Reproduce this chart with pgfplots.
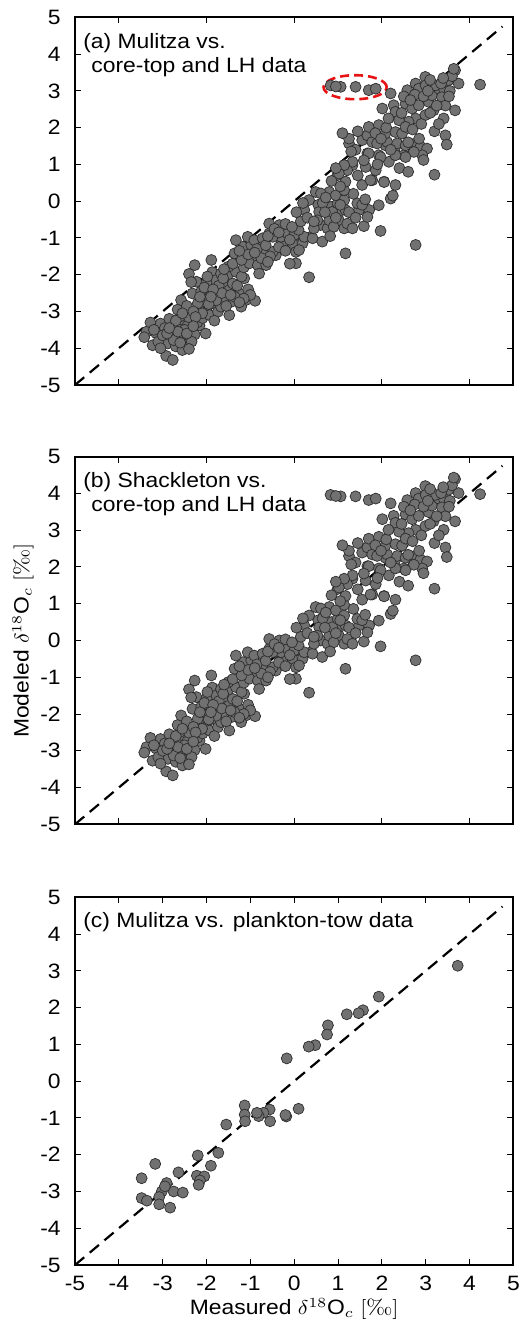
\documentclass[border=0pt]{standalone}
\usepackage{fontspec}
\setsansfont{Liberation Sans}
\usepackage{pgfplots}
\usepackage{pgfplotstable}
\pgfplotsset{compat=1.18}
\definecolor{mk}{RGB}{113,113,113}
\definecolor{mkedge}{RGB}{45,45,45}
\definecolor{ring}{RGB}{230,20,20}

\pgfplotstableread{
x a b
-3.37 -3.55 -2.90
-3.23 -3.92 -3.27
-3.15 -3.59 -2.94
-3.05 -3.33 -2.68
-2.92 -4.21 -3.56
-2.77 -4.32 -3.67
-2.88 -3.87 -3.22
-2.80 -3.64 -2.99
-2.70 -3.95 -3.30
-2.59 -3.60 -2.95
-2.55 -4.05 -3.40
-2.46 -3.78 -3.13
-2.38 -3.68 -3.03
-2.27 -3.63 -2.98
-2.16 -3.38 -2.73
-2.02 -3.60 -2.95
-2.65 -3.38 -2.73
-2.85 -3.20 -2.55
-2.95 -3.45 -2.80
-3.10 -3.82 -3.17
-2.52 -3.24 -2.59
-2.44 -3.40 -2.75
-2.61 -3.14 -2.49
-2.66 -2.95 -2.30
-2.58 -2.69 -2.04
-2.40 -3.16 -2.51
-2.50 -3.50 -2.85
-2.34 -3.82 -3.17
-2.21 -3.30 -2.65
-2.09 -3.18 -2.53
-2.00 -2.98 -2.33
-1.93 -3.10 -2.45
-2.27 -1.74 -1.09
-2.40 -1.98 -1.33
-2.23 -2.19 -1.54
-2.32 -2.51 -1.86
-2.17 -2.96 -2.31
-2.06 -2.60 -1.95
-1.89 -1.60 -0.95
-1.87 -1.93 -1.28
-1.94 -2.33 -1.68
-1.79 -2.15 -1.50
-1.70 -2.46 -1.81
-1.86 -2.78 -2.13
-1.74 -3.01 -2.36
-1.67 -1.97 -1.32
-1.52 -2.02 -1.37
-1.59 -2.28 -1.63
-1.48 -2.42 -1.77
-1.40 -2.24 -1.59
-1.33 -1.92 -1.27
-1.25 -2.51 -1.86
-1.14 -2.10 -1.45
-1.10 -2.69 -2.04
-1.21 -2.87 -2.22
-1.48 -3.10 -2.45
-1.67 -2.87 -2.22
-1.44 -2.74 -2.09
-0.89 -2.71 -2.06
-2.12 -2.45 -1.80
-2.00 -2.22 -1.57
-1.83 -2.55 -1.90
-1.60 -2.62 -1.97
-1.36 -2.60 -1.95
-1.55 -2.85 -2.20
-1.78 -2.70 -2.05
-2.20 -2.78 -2.13
-2.45 -2.85 -2.20
-1.98 -2.05 -1.40
-1.72 -2.30 -1.65
-1.50 -1.78 -1.13
-1.62 -2.10 -1.45
-1.30 -2.30 -1.65
-1.20 -2.05 -1.40
-1.05 -2.40 -1.75
-1.00 -2.55 -1.90
-1.15 -2.65 -2.00
-2.10 -3.05 -2.40
-1.82 -3.25 -2.60
-2.30 -3.00 -2.35
-2.70 -3.25 -2.60
-3.00 -3.65 -3.00
-2.75 -3.78 -3.13
-2.60 -3.85 -3.20
-2.40 -4.02 -3.37
-3.28 -3.30 -2.65
-3.42 -3.70 -3.05
-2.35 -2.20 -1.55
-2.15 -2.60 -1.95
-1.95 -2.80 -2.15
-1.65 -2.50 -1.85
-1.45 -2.55 -1.90
-1.25 -2.75 -2.10
-2.05 -2.35 -1.70
-1.85 -2.40 -1.75
-2.55 -3.05 -2.40
-2.25 -3.15 -2.50
-2.90 -3.60 -2.95
-3.20 -3.50 -2.85
-2.65 -3.55 -2.90
-2.45 -3.60 -2.95
-2.85 -3.45 -2.80
-3.05 -4.00 -3.35
-2.30 -3.40 -2.75
-1.90 -2.60 -1.95
-1.60 -1.85 -1.20
-1.40 -1.70 -1.05
-1.15 -1.80 -1.15
-0.95 -1.60 -0.95
-0.70 -1.35 -0.70
-0.30 -1.05 -0.40
-0.80 -1.15 -0.50
0.15 -0.95 -0.30
0.60 -0.65 0.00
0.85 -0.15 0.50
1.00 -0.35 0.30
0.55 -0.10 0.55
0.80 0.25 0.91
-1.36 -1.42 -0.77
-1.17 -1.24 -0.59
-0.98 -1.19 -0.54
-1.02 -1.69 -1.04
-0.83 -1.74 -1.09
-0.80 -1.97 -1.32
-0.64 -1.74 -1.09
-1.06 -0.97 -0.32
-0.91 -1.06 -0.41
-0.72 -1.01 -0.36
-0.42 -1.47 -0.82
-0.49 -1.38 -0.73
-0.27 -1.20 -0.55
-0.04 -1.15 -0.50
0.04 -1.69 -1.04
0.34 -2.07 -1.42
0.04 -1.38 -0.73
0.19 -1.15 -0.50
0.38 -0.97 -0.32
-0.30 -0.97 -0.32
-0.57 -0.88 -0.23
-1.33 -1.06 -0.41
-0.57 -0.61 0.04
-0.34 -0.65 0.00
-0.49 -0.97 -0.32
-0.15 -0.88 -0.23
0.00 -0.92 -0.27
0.11 -1.33 -0.68
0.23 -0.97 -0.32
0.42 -1.01 -0.36
0.64 -1.10 -0.45
0.23 -0.24 0.41
0.34 0.03 0.68
0.57 -0.29 0.36
0.53 -0.52 0.13
0.76 -0.74 -0.09
0.45 -0.74 -0.09
0.80 -0.52 0.13
0.87 -0.29 0.36
0.99 -0.06 0.59
0.49 0.25 0.91
0.61 0.21 0.87
0.95 0.16 0.82
1.14 0.03 0.68
1.17 -0.24 0.41
1.02 -0.52 0.13
1.14 -0.74 -0.09
1.21 -0.61 0.04
1.33 -0.74 -0.09
1.48 -0.24 0.41
1.44 -0.06 0.59
1.71 -0.24 0.41
1.59 -0.68 -0.03
1.67 -0.43 0.22
1.93 -0.11 0.54
2.20 0.07 0.72
1.17 -1.42 -0.77
1.97 -0.81 -0.16
2.77 -1.19 -0.54
-0.85 -1.30 -0.65
-0.65 -1.20 -0.55
-0.60 -0.95 -0.30
-0.45 -0.75 -0.10
-0.20 -0.62 0.03
-0.10 -1.05 -0.40
-0.35 -1.25 -0.60
-0.55 -1.50 -0.85
-0.75 -1.55 -0.90
-0.20 -1.35 -0.70
0.10 -0.78 -0.13
0.15 -0.55 0.10
0.30 -0.45 0.20
-0.05 -0.70 -0.05
-1.20 -1.60 -0.95
-1.05 -1.45 -0.80
-0.90 -1.40 -0.75
-1.25 -1.35 -0.70
-0.35 -0.85 -0.20
0.05 -0.30 0.35
0.20 -0.05 0.60
0.45 -0.55 0.10
0.65 -0.05 0.60
0.72 0.10 0.76
0.90 -0.70 -0.05
0.95 -0.45 0.20
0.82 -0.95 -0.30
0.70 -0.30 0.35
1.05 -0.10 0.55
1.25 -0.30 0.35
1.40 -0.45 0.20
1.55 -0.10 0.55
1.62 0.05 0.70
1.35 0.20 0.86
-0.60 -1.65 -1.00
-0.10 -1.70 -1.05
1.55 0.44 1.11
0.99 0.71 1.40
1.14 0.30 0.97
1.17 0.53 1.21
1.33 0.98 1.68
1.21 0.84 1.53
1.63 0.93 1.63
1.78 0.57 1.25
2.05 0.53 1.21
2.31 0.44 1.11
1.86 0.84 1.53
2.16 1.07 1.77
1.25 1.57 2.30
1.67 1.30 2.02
1.93 1.25 1.96
2.08 1.52 2.25
2.31 1.48 2.20
2.50 1.25 1.96
2.69 1.48 2.20
1.25 1.70 2.44
1.55 1.66 2.39
1.67 1.79 2.53
1.78 1.61 2.34
1.89 1.57 2.30
2.12 1.61 2.34
2.35 1.57 2.30
2.54 1.52 2.25
2.77 1.57 2.30
2.88 1.48 2.20
3.03 1.43 2.15
2.92 1.25 1.96
2.95 1.12 1.83
2.73 1.34 2.06
2.54 1.20 1.91
2.31 1.25 1.96
1.97 1.20 1.91
1.70 1.30 2.02
1.59 1.11 1.82
1.33 1.07 1.77
1.14 0.98 1.68
1.02 0.75 1.44
1.74 0.57 1.25
2.05 0.52 1.20
2.25 0.15 0.81
1.05 0.40 1.07
0.85 0.55 1.23
0.95 0.90 1.60
1.45 0.70 1.39
1.40 1.40 2.12
1.90 1.00 1.70
2.40 0.90 1.60
2.60 0.80 1.49
1.10 1.85 2.59
1.30 1.35 2.07
1.45 1.90 2.65
1.70 2.02 2.77
1.93 2.07 2.82
2.08 1.84 2.58
2.10 2.00 2.75
2.31 1.88 2.62
2.46 1.84 2.58
2.01 2.52 3.30
2.27 2.61 3.39
2.31 2.43 3.20
2.54 2.65 3.43
2.69 2.52 3.30
2.84 2.61 3.39
3.07 2.70 3.49
3.14 2.88 3.67
3.30 3.06 3.86
3.41 3.06 3.86
3.52 3.29 4.10
3.22 3.15 3.96
3.37 2.83 3.62
3.18 2.47 3.24
3.41 2.25 3.01
2.99 2.34 3.11
2.77 2.25 3.01
2.61 2.16 2.92
2.39 2.20 2.96
2.54 2.02 2.77
2.20 2.93 3.73
2.58 3.02 3.82
2.77 3.20 4.01
2.84 3.06 3.86
2.99 3.38 4.20
2.75 2.90 3.70
3.00 3.15 3.96
3.35 3.20 4.01
3.45 2.60 3.38
2.50 2.85 3.64
3.67 3.56 4.39
3.75 3.20 4.01
3.67 2.47 3.24
3.45 1.79 2.53
3.48 1.54 2.27
3.20 0.72 1.41
4.24 3.17 3.98
0.83 3.15 3.96
1.06 3.11 3.92
1.40 3.11 3.92
1.70 3.02 3.82
1.86 3.06 3.86
0.95 3.12 3.93
2.65 2.75 3.54
2.95 2.85 3.64
3.10 2.40 3.17
3.25 2.60 3.38
3.55 3.00 3.80
3.60 3.40 4.22
3.40 3.35 4.17
3.05 3.00 3.80
2.45 2.40 3.17
2.15 2.25 3.01
1.85 1.85 2.59
2.70 1.95 2.70
2.90 2.10 2.86
3.20 1.90 2.65
3.30 2.10 2.86
2.85 1.70 2.44
2.60 1.60 2.33
1.98 1.70 2.44
2.20 1.40 2.12
3.53 2.85 3.64
3.10 3.30 4.12
3.64 3.60 4.43
}\coretop

\pgfplotstableread{
x y
3.73 3.14
1.93 2.30
1.57 1.93
1.47 1.85
1.20 1.82
0.77 1.52
0.75 1.27
0.48 0.98
0.33 0.94
-0.17 0.62
0.10 -0.75
-0.18 -0.96
-0.20 -0.92
-0.56 -0.77
-0.55 -1.09
-0.70 -0.86
-0.81 -0.95
-0.85 -0.86
-1.13 -0.66
-1.13 -0.91
-1.12 -1.09
-1.55 -1.18
-1.73 -1.95
-2.20 -2.02
-1.90 -2.30
-2.22 -2.57
-2.05 -2.59
-2.15 -2.70
-2.18 -2.82
-2.64 -2.48
-3.17 -2.25
-3.48 -2.64
-2.91 -2.77
-3.02 -3.00
-2.75 -3.00
-2.54 -3.03
-3.48 -3.18
-3.36 -3.25
-3.08 -3.15
-3.08 -3.35
-2.83 -3.44
-2.95 -2.86
}\towdata

\newcommand{\lab}{\sffamily\fontsize{10.4}{12.5}\selectfont}

\tikzset{ptext/.style={anchor=base west, inner sep=0pt, font=\lab, xscale=1.1}}

\pgfplotsset{
  panel/.style={
    scale only axis, width=219.2pt, height=183.8pt,
    anchor=south west,
    xmin=-5, xmax=5, ymin=-5, ymax=5,
    ytick={-5,...,5},
    axis line style={line width=0.9pt},
    every tick/.style={black, line width=0.5pt},
    major tick length=3pt,
    tick align=inside,
    /pgf/number format/assume math mode=true,
    tick label style={font=\lab, xscale=1.1},
    yticklabel style={xshift=-3pt},
    xticklabel style={yshift=-2pt},
  },
  pts/.style={only marks, mark=*, mark size=2.75pt,
    mark options={fill=mk, draw=mkedge, line width=0.35pt}},
  oneone/.style={black, line width=1.1pt, dash pattern=on 6pt off 3.6pt},
}

\begin{document}
\begin{tikzpicture}
\useasboundingbox (0,0) rectangle (261pt,666pt);

% (a)
\begin{axis}[panel, at={(37.5pt,473.5pt)}, xtick={-4,-2,0,2,4}, xticklabels={}]
\addplot[pts] table[x=x, y=a] {\coretop};
\addplot[oneone] coordinates {(-5,-5) (4.75,4.75)};
\draw[ring, line width=1.3pt, dash pattern=on 4.5pt off 2.5pt] (axis cs:1.39,3.10) ellipse [x radius=15.8pt, y radius=6pt];
\node[ptext] at (axis description cs:0.018,0.9155) {(a) Mulitza vs.};
\node[ptext] at (axis description cs:0.0365,0.850) {core-top and LH data};
\end{axis}

% (b)
\begin{axis}[panel, at={(37.5pt,253.85pt)}, xtick={-4,-2,0,2,4}, xticklabels={},
  ylabel={Modeled $\delta^{18}$O$_c$ $[${\rmfamily\textperthousand}$]$},
  ylabel style={at={(axis description cs:-0.1437,0.5)}, anchor=north, inner sep=0pt, font=\lab, xscale=1.1}]
\addplot[pts] table[x=x, y=b] {\coretop};
\addplot[oneone] coordinates {(-5,-5) (4.75,4.75)};
\node[ptext] at (axis description cs:0.018,0.9155) {(b) Shackleton vs.};
\node[ptext] at (axis description cs:0.0365,0.850) {core-top and LH data};
\end{axis}

% (c)
\begin{axis}[panel, at={(37.5pt,33.5pt)}, xtick={-5,...,5},
  xlabel={Measured $\delta^{18}$O$_c$ $[${\rmfamily\textperthousand}$]$},
  xlabel style={at={(axis description cs:0.5,0)}, anchor=north, inner sep=0pt, yshift=-16.5pt, font=\lab, xscale=1.1}]
\addplot[pts] table[x=x, y=y] {\towdata};
\addplot[oneone] coordinates {(-5,-5) (4.75,4.75)};
\node[ptext] at (axis description cs:0.018,0.918) {(c) Mulitza vs. plankton-tow data};
\end{axis}
\end{tikzpicture}
\end{document}
